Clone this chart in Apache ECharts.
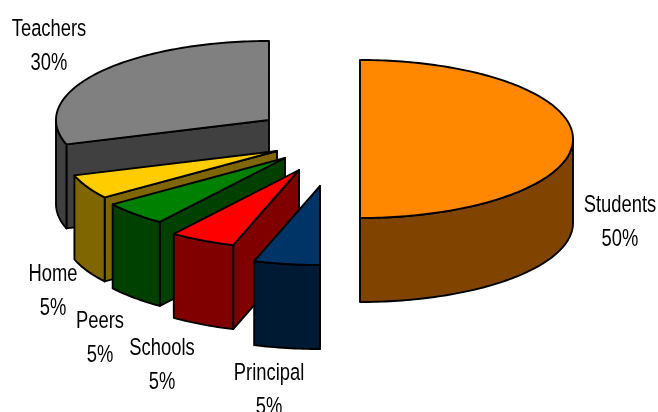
<!DOCTYPE html>
<html>
<head>
<meta charset="utf-8">
<style>html,body{margin:0;padding:0;background:#fff}#chart{width:658px;height:412px}</style>
<script src="https://cdn.jsdelivr.net/npm/echarts@6/dist/echarts.min.js"></script>
</head>
<body>
<div id="chart"></div>
<script>
// Data, in the chart's clockwise order from 12 o'clock
const categories = ['Students', 'Principal', 'Schools', 'Peers', 'Home', 'Teachers'];
const shares = [50, 5, 5, 5, 5, 30];

// Styles
const topColors  = ['#FF8800', '#003366', '#FF0000', '#008000', '#FFCC00', '#808080'];
const wallColors = ['#804400', '#001A33', '#800000', '#004000', '#806600', '#404040'];

// Layout: pie ellipse, thickness, how each slice is exploded, where each label sits
const RX = 213, RY = 79, DEPTH = 84;
const PIE_CENTER = [315, 150];
const explodeX = [45, 5, -16, -30, -38, -46];
const explodeY = [-11, 36, 20, 8, 1, -30];
const labelX = [620, 269, 162, 100, 53, 49];
const labelY = [222, 390, 365, 338, 291, 46];
const drawOrder = [5, 4, 3, 2, 1, 0];

const total = shares.reduce((a, b) => a + b, 0);
const startAngle = [];
shares.reduce((acc, v, i) => { startAngle[i] = acc; return acc + v / total * 2 * Math.PI; }, 0);

const onRim = (c, a, dy) => [c[0] + RX * Math.sin(a), c[1] - RY * Math.cos(a) + (dy || 0)];
function arc(c, a0, a1, dy) {
  const n = Math.max(2, Math.ceil(Math.abs(a1 - a0) / 0.02));
  const pts = [];
  for (let k = 0; k <= n; k++) pts.push(onRim(c, a0 + (a1 - a0) * k / n, dy));
  return pts;
}
const line = { stroke: '#000', lineWidth: 1.9, lineJoin: 'round' };

function renderItem(params, api) {
  const i = drawOrder[params.dataIndex];
  const share = shares[i];
  const a0 = startAngle[i], a1 = a0 + share / total * 2 * Math.PI;
  const c = [PIE_CENTER[0] + explodeX[i], PIE_CENTER[1] + explodeY[i]];
  const children = [];
  const wall = Object.assign({ fill: wallColors[i] }, line);
  // cut face seen from the front
  if (a0 > Math.PI - 1e-6 && a0 < 2 * Math.PI) {
    const p = onRim(c, a0);
    children.push({ type: 'polygon', shape: { points: [c, p, [p[0], p[1] + DEPTH], [c[0], c[1] + DEPTH]] }, style: wall });
  }
  // outer wall: only the front half of the rim
  const w0 = Math.max(a0, Math.PI / 2), w1 = Math.min(a1, 3 * Math.PI / 2);
  if (w1 > w0) {
    children.push({ type: 'polygon', shape: { points: arc(c, w0, w1, 0).concat(arc(c, w1, w0, DEPTH)) }, style: wall });
  }
  // top face
  children.push({ type: 'polygon', shape: { points: [c].concat(arc(c, a0, a1, 0)) }, style: Object.assign({ fill: topColors[i] }, line) });
  return { type: 'group', children };
}

function renderLabel(params, api) {
  const i = params.dataIndex;
  return {
    type: 'text',
    x: labelX[i], y: labelY[i], scaleX: 0.75,
    style: {
      text: categories[i] + '\n' + shares[i] + '%',
      font: '24.5px "Liberation Sans", Arial, sans-serif',
      lineHeight: 34, fill: '#000',
      textAlign: 'center', textVerticalAlign: 'middle'
    }
  };
}

const chart = echarts.init(document.getElementById('chart'), null, { renderer: 'canvas' });
chart.setOption({
  animation: false,
  backgroundColor: '#fff',
  series: [
    { type: 'custom', coordinateSystem: 'none', renderItem, data: drawOrder.map(i => [shares[i]]), silent: true, z: 1 },
    { type: 'custom', coordinateSystem: 'none', renderItem: renderLabel, data: shares.map(v => [v]), silent: true, z: 2 }
  ]
});
</script>
</body>
</html>
